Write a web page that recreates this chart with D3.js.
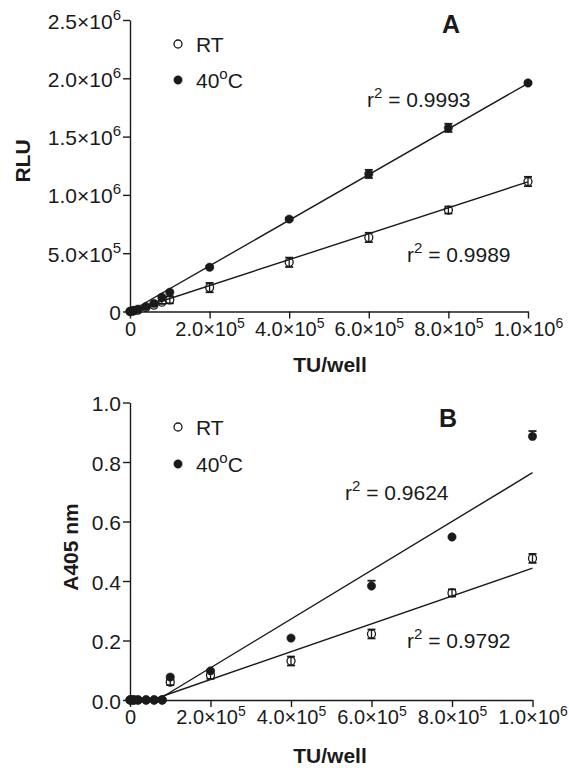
<!DOCTYPE html>
<html><head><meta charset="utf-8">
<script src="https://cdn.jsdelivr.net/npm/d3@7/dist/d3.min.js"></script>
<style>
body{margin:0;background:#fff;}
svg{display:block;font-family:"Liberation Sans",Arial,sans-serif;}
</style></head>
<body><svg id="c" width="569" height="768"></svg>
<script>
// ---------- data ----------
const tuPerWell = [0, 5e3, 1e4, 2e4, 4e4, 6e4, 8e4, 1e5, 2e5, 4e5, 6e5, 8e5, 1e6];

// Panel A (RLU)
const rluRT   = [0, 3e3, 6e3, 1.2e4, 3.5e4, 5.5e4, 8e4, 1.0e5, 2.05e5, 4.22e5, 6.35e5, 8.7e5, 1.115e6];
const rluRTerr= [0, 0, 0, 0, 8e3, 1e4, 1.5e4, 3e4, 4e4, 4e4, 4e4, 3e4, 4e4];
const rlu40   = [0, 5e3, 1e4, 2e4, 4.2e4, 7e4, 1.22e5, 1.65e5, 3.8e5, 7.92e5, 1.18e6, 1.575e6, 1.96e6];
const rlu40err= [0, 0, 0, 0, 0, 0, 0, 0, 1e4, 1e4, 3.5e4, 3.5e4, 1e4];
const fitA_slope = [1.112, 1.957];      // RT, 40oC
const fitA_intercept = [0, 0];
const r2A = ["0.9989", "0.9993"];

// Panel B (A405 nm)
const a405RT   = [0, 0, 0, 0, 0, 0, 0, 0.060, 0.083, 0.131, 0.222, 0.360, 0.476];
const a405RTerr= [0, 0, 0, 0, 0, 0, 0, 0.010, 0.012, 0.015, 0.015, 0.012, 0.015];
const a40540   = [0, 0, 0, 0, 0, 0, 0, 0.077, 0.098, 0.208, 0.383, 0.548, 0.886];
const a40540err= [0, 0, 0, 0, 0, 0, 0, 0, 0, 0, 0.018, 0, 0.018];
const fitB_slope = [0.468, 0.82];
const fitB_intercept = [-0.025, -0.056];
const r2B = ["0.9792", "0.9624"];

const xTicks = [0, 2e5, 4e5, 6e5, 8e5, 1e6];
const xTickLabels = ["0", "2.0×10^5", "4.0×10^5", "6.0×10^5", "8.0×10^5", "1.0×10^6"];
const yTicksA = [0, 5e5, 1e6, 1.5e6, 2e6, 2.5e6];
const yTickLabelsA = ["0", "5.0×10^5", "1.0×10^6", "1.5×10^6", "2.0×10^6", "2.5×10^6"];
const yTicksB = [0, 0.2, 0.4, 0.6, 0.8, 1.0];
const yTickLabelsB = ["0.0", "0.2", "0.4", "0.6", "0.8", "1.0"];
const seriesNames = ["RT", "40^o^C"];

// ---------- drawing ----------
const svg = d3.select("#c");
const ink = "#1a1a1a";

function richText(sel, str, supSize, supDy) {
  const parts = str.split("^");
  sel.text(null);
  sel.append("tspan").text(parts[0]);
  if (parts.length > 1) {
    sel.append("tspan").attr("dy", -supDy).attr("font-size", supSize).text(parts[1]);
  }
  if (parts.length > 2) {
    sel.append("tspan").attr("dy", supDy).text(parts[2]);
  }
}

function panel(cfg) {
  const x = d3.scaleLinear().domain([0, 1e6]).range(cfg.xr);
  const y = d3.scaleLinear().domain(cfg.yd).range(cfg.yr);
  const g = svg.append("g");

  // x axis
  const xa = g.append("g").attr("transform", `translate(0,${cfg.yr[0]})`)
    .call(d3.axisBottom(x).tickValues(xTicks).tickSize(7).tickSizeOuter(0));
  xa.select(".domain").attr("stroke", ink).attr("stroke-width", 1.4);
  xa.selectAll(".tick line").attr("stroke", ink).attr("stroke-width", 1.4);
  xa.selectAll(".tick text").attr("fill", ink).attr("font-size", 20).attr("y", 0).attr("dy", 0)
    .attr("transform", `translate(0,${cfg.xLabBase})`)
    .each(function(d, i) { richText(d3.select(this), xTickLabels[i], 14, 8); });

  // y axis
  const ya = g.append("g").attr("transform", `translate(${cfg.xr[0]},0)`)
    .call(d3.axisLeft(y).tickValues(cfg.yTicks).tickSize(7).tickSizeOuter(0));
  ya.select(".domain").attr("stroke", ink).attr("stroke-width", 1.4);
  ya.selectAll(".tick line").attr("stroke", ink).attr("stroke-width", 1.4);
  ya.selectAll(".tick text").attr("fill", ink).attr("font-size", 21).attr("x", -9).attr("dy", 0).attr("y", 8)
    .each(function(d, i) { richText(d3.select(this), cfg.yLabels[i], 15, 9); });

  // fit lines
  for (let s = 0; s < 2; s++) {
    const m = cfg.slope[s], b = cfg.intercept[s];
    const xs0 = b < 0 ? -b / m : 0;
    g.append("line")
      .attr("x1", x(xs0)).attr("y1", y(m * xs0 + b))
      .attr("x2", x(1e6)).attr("y2", y(m * 1e6 + b))
      .attr("stroke", ink).attr("stroke-width", 1.4);
  }

  // error bars + points
  const series = [
    {v: cfg.rt, e: cfg.rtErr, filled: false, upOnly: false},
    {v: cfg.h40, e: cfg.h40Err, filled: true, upOnly: cfg.upOnly40}
  ];
  series.forEach(s => {
    const eg = g.append("g");
    tuPerWell.forEach((t, i) => {
      const err = s.e[i];
      if (err <= 0) return;
      const cx = x(t);
      const yt = y(s.v[i] + err), yb = s.upOnly ? y(s.v[i]) : y(s.v[i] - err);
      eg.append("line").attr("x1", cx).attr("x2", cx).attr("y1", yt).attr("y2", yb)
        .attr("stroke", ink).attr("stroke-width", 1.3);
      eg.append("line").attr("x1", cx - 4).attr("x2", cx + 4).attr("y1", yt).attr("y2", yt)
        .attr("stroke", ink).attr("stroke-width", 1.8);
      if (!s.upOnly) eg.append("line").attr("x1", cx - 4).attr("x2", cx + 4).attr("y1", yb).attr("y2", yb)
        .attr("stroke", ink).attr("stroke-width", 1.8);
    });
    g.append("g").selectAll("circle").data(tuPerWell).join("circle")
      .attr("cx", d => x(d)).attr("cy", (d, i) => y(s.v[i])).attr("r", s.filled ? 4.2 : 4)
      .attr("fill", s.filled ? ink : "none").attr("stroke", ink).attr("stroke-width", s.filled ? 0.5 : 1.3);
  });

  // legend
  cfg.legendY.forEach((ly, i) => {
    g.append("circle").attr("cx", 178).attr("cy", ly).attr("r", i ? 4.2 : 4)
      .attr("fill", i ? ink : "none").attr("stroke", ink).attr("stroke-width", i ? 0.5 : 1.3);
    const t = g.append("text").attr("x", 196).attr("y", ly + 8).attr("font-size", 21).attr("fill", ink);
    richText(t, seriesNames[i], 15, 9);
  });

  // r2 labels
  cfg.r2pos.forEach((p, i) => {
    const t = g.append("text").attr("x", p[0]).attr("y", p[1]).attr("font-size", 21).attr("fill", ink);
    richText(t, "r^2^ = " + cfg.r2[i], 15, 9);
  });

  // panel letter
  g.append("text").attr("x", cfg.letterPos[0]).attr("y", cfg.letterPos[1]).attr("text-anchor", "middle")
    .attr("font-size", 25).attr("font-weight", "bold").attr("fill", ink).text(cfg.letter);

  // axis titles
  g.append("text").attr("x", 330).attr("y", cfg.xTitleBase).attr("text-anchor", "middle")
    .attr("font-size", 21).attr("font-weight", "bold").attr("fill", ink).text("TU/well");
  g.append("text").attr("transform", `translate(${cfg.yTitle[0]},${cfg.yTitle[1]}) rotate(-90)`)
    .attr("text-anchor", "middle").attr("font-size", 21).attr("font-weight", "bold").attr("fill", ink)
    .text(cfg.yTitleText);
}

panel({
  xr: [130, 528], yd: [0, 2.5e6], yr: [311.5, 20],
  yTicks: yTicksA, yLabels: yTickLabelsA, xLabBase: 24,
  slope: fitA_slope, intercept: fitA_intercept.map(v => v * 1e6),
  rt: rluRT, rtErr: rluRTerr, h40: rlu40, h40Err: rlu40err, upOnly40: false,
  legendY: [44, 80], r2: r2A, r2pos: [[407, 262], [367, 107]],
  letter: "A", letterPos: [451, 33], xTitleBase: 372, yTitle: [30, 161], yTitleText: "RLU"
});
panel({
  xr: [130, 532.5], yd: [0, 1], yr: [700, 402.5],
  yTicks: yTicksB, yLabels: yTickLabelsB, xLabBase: 24,
  slope: fitB_slope.map(v => v / 1e6), intercept: fitB_intercept,
  rt: a405RT, rtErr: a405RTerr, h40: a40540, h40Err: a40540err, upOnly40: true,
  legendY: [427, 464], r2: r2B, r2pos: [[407, 648], [345, 500]],
  letter: "B", letterPos: [448, 427], xTitleBase: 763, yTitle: [78, 547], yTitleText: "A405 nm"
});
</script></body></html>
